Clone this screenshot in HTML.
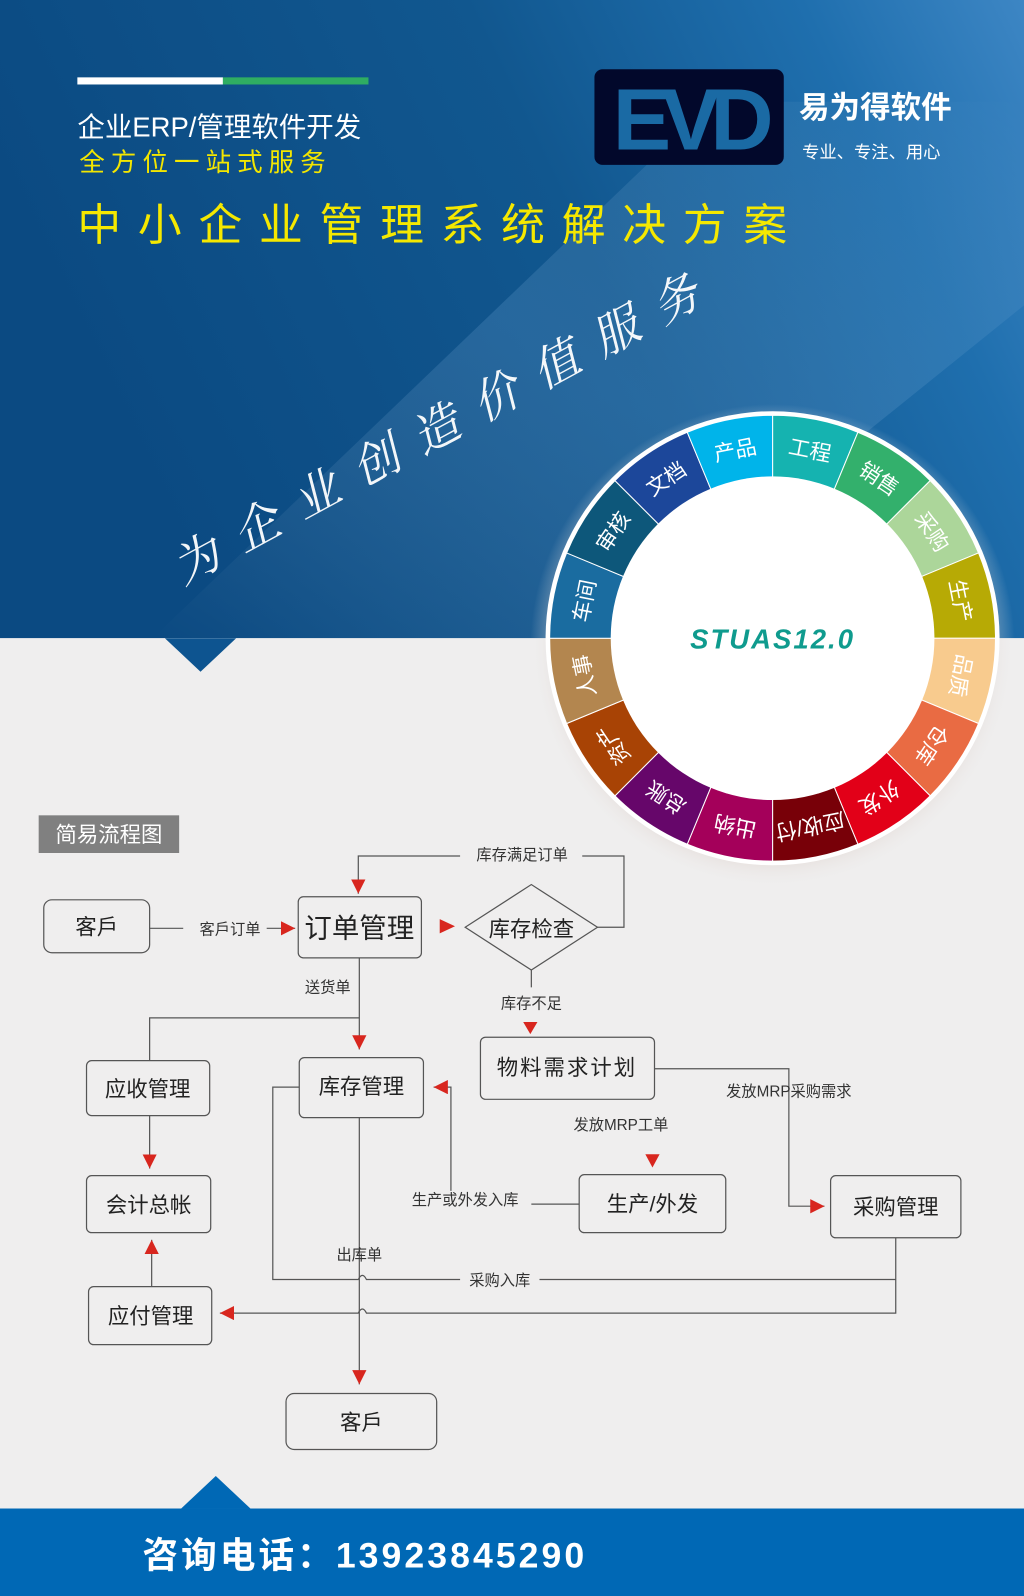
<!DOCTYPE html>
<html><head><meta charset="utf-8">
<style>
html,body{margin:0;padding:0;width:1024px;height:1596px;overflow:hidden;background:#efeeee}
#w{position:absolute;left:0;top:0;width:1006px;height:1568px;transform:scale(1.01789);transform-origin:0 0;font-family:"Liberation Sans","Noto Sans CJK SC",sans-serif}
</style></head><body><div id="w">
<svg width="1006" height="1568" style="position:absolute;left:0;top:0" font-family="Liberation Sans, Noto Sans CJK SC, sans-serif">
<defs>
<linearGradient id="bg" x1="0" y1="0.3" x2="1" y2="0">
<stop offset="0" stop-color="#0b4a82"/><stop offset="0.5" stop-color="#11578f"/><stop offset="0.8" stop-color="#1f6fae"/><stop offset="1" stop-color="#3d86c4"/></linearGradient>
<linearGradient id="hl" x1="0" y1="1" x2="1" y2="0">
<stop offset="0" stop-color="#ffffff" stop-opacity="0"/><stop offset="0.5" stop-color="#8ec0ee" stop-opacity="0.18"/><stop offset="1" stop-color="#ffffff" stop-opacity="0"/></linearGradient>
<radialGradient id="sh" cx="0.5" cy="0.5" r="0.5"><stop offset="0.85" stop-color="#d8c8c0" stop-opacity="0.6"/><stop offset="1" stop-color="#efeeee" stop-opacity="0"/></radialGradient>
<marker id="ar" viewBox="0 0 10 10" refX="10" refY="5" markerWidth="14" markerHeight="14" markerUnits="userSpaceOnUse" orient="auto"><path d="M0,0L10,5L0,10z" fill="#d8261e"/></marker>
</defs>
<rect x="0" y="0" width="1006" height="627" fill="url(#bg)"/>
<polygon points="150,627 700,100 1006,100 1006,300 600,627" fill="url(#hl)"/>
<rect x="0" y="627" width="1006" height="860" fill="#efeeee"/>
<polygon points="162,627 232,627 197,660" fill="#0d5490"/>
<circle cx="759" cy="635" r="238" fill="url(#sh)"/>
<rect x="76" y="76" width="143" height="7" fill="#fff"/><rect x="219" y="76" width="143" height="7" fill="#2fad62"/>
<rect x="584" y="68" width="186" height="94" rx="8" fill="#02082b"/>
<text x="677" y="147" text-anchor="middle" font-size="86" font-weight="bold" fill="#1a6aa4" letter-spacing="-8" textLength="150">EVD</text>
<text x="785" y="116" font-size="30" font-weight="bold" fill="#fff">易为得软件</text>
<text x="788" y="155" font-size="17" fill="#fff">专业、专注、用心</text>
<text x="76" y="134" font-size="27" fill="#fff">企业ERP/管理软件开发</text>
<text x="78" y="168" font-size="25" fill="#f3e600" letter-spacing="6">全方位一站式服务</text>
<text x="76" y="236" font-size="43" fill="#f5e800" letter-spacing="16.5">中小企业管理系统解决方案</text>
<text transform="translate(180,575) rotate(-28.5)" font-size="46" fill="#fff" font-family="Liberation Serif, Noto Serif CJK SC, serif" font-style="italic" letter-spacing="21" opacity="0.95">为企业创造价值服务</text>
<circle cx="759" cy="627" r="223" fill="#fff"/>
<g id="wheel"></g>
<circle cx="759" cy="627" r="159" fill="#fff"/>
<text x="759" y="637" text-anchor="middle" font-size="27" font-weight="bold" font-style="italic" fill="#0f9b8e" letter-spacing="2">STUAS12.0</text>
<g fill="none" stroke="#555" stroke-width="1.2">
<rect x="43" y="884" width="104" height="52" rx="8"/>
<rect x="293" y="881" width="121" height="60" rx="5"/>
<polygon points="457,911 522,869 587,911 522,953"/>
<rect x="472" y="1019" width="171" height="61" rx="5"/>
<rect x="294" y="1039" width="122" height="59" rx="5"/>
<rect x="85" y="1042" width="121" height="54" rx="5"/>
<rect x="85" y="1155" width="122" height="56" rx="5"/>
<rect x="87" y="1264" width="121" height="57" rx="5"/>
<rect x="569" y="1154" width="144" height="57" rx="5"/>
<rect x="816" y="1155" width="128" height="61" rx="5"/>
<rect x="281" y="1369" width="148" height="55" rx="8"/>
<path d="M147,912H180M262,912H290" marker-end="url(#ar)"/>
<path d="M587,911H613V841H572M452,841H352V878" marker-end="url(#ar)"/>
<path d="M353,941V1031" marker-end="url(#ar)"/>
<path d="M353,1000H147V1042"/>
<path d="M522,953V970"/>
<path d="M147,1096V1148" marker-end="url(#ar)"/>
<path d="M149,1264V1218" marker-end="url(#ar)"/>
<path d="M643,1050H775V1185H810" marker-end="url(#ar)"/>
<path d="M569,1183H522M443,1170V1068H426" marker-end="url(#ar)"/>
<path d="M880,1216V1290H360q-4,-8 -8,0H216" marker-end="url(#ar)"/>
<path d="M880,1257H530M452,1257H360q-4,-8 -8,0H268V1068H294"/>
<path d="M353,1098V1360" marker-end="url(#ar)"/>
</g>
<path d="M432,903L447,910L432,917z" fill="#d8261e"/>
<path d="M514,1004L521,1016L528,1004z" fill="#d8261e"/>
<path d="M634,1134L641,1147L648,1134z" fill="#d8261e"/>
<g font-size="15" fill="#333" text-anchor="middle">
<text x="226" y="918">客戶订单</text>
<text x="513" y="845">库存满足订单</text>
<text x="322" y="975">送货单</text>
<text x="522" y="991">库存不足</text>
<text x="775" y="1077">发放MRP采购需求</text>
<text x="610" y="1110">发放MRP工单</text>
<text x="457" y="1184">生产或外发入库</text>
<text x="353" y="1238">出库单</text>
<text x="491" y="1263">采购入库</text>
</g>
<g font-size="21" fill="#222" text-anchor="middle">
<text x="95" y="918">客戶</text>
<text x="353" y="921" font-size="27">订单管理</text>
<text x="522" y="920">库存检查</text>
<text x="557" y="1056" letter-spacing="2">物料需求计划</text>
<text x="355" y="1075">库存管理</text>
<text x="145" y="1077">应收管理</text>
<text x="146" y="1191">会计总帐</text>
<text x="148" y="1300">应付管理</text>
<text x="641" y="1190">生产/外发</text>
<text x="880" y="1193">采购管理</text>
<text x="355" y="1405">客戶</text>
</g>
<rect x="38" y="801" width="138" height="37" fill="#808080"/>
<text x="107" y="827" text-anchor="middle" font-size="21" fill="#fff">简易流程图</text>
<rect x="0" y="1482" width="1006" height="86" fill="#0068b5"/>
<polygon points="178,1482 246,1482 212,1450" fill="#0068b5"/>
<text x="140" y="1540" font-size="35" font-weight="bold" fill="#fff" letter-spacing="3">咨询电话：13923845290</text>
</svg>
</div>
<script>
var segs=[["工程","#15b3b0"],["销售","#33b06c"],["采购","#acd69a"],["生产","#b7aa05"],["品质","#f8cb8e"],["仓库","#e96b43"],["外发","#e20018"],["应收/付","#780008"],["出纳","#a4005a"],["总账","#66066a"],["资产","#a84305"],["人事","#b3864f"],["车间","#1a6ca0"],["审核","#0d577a"],["文档","#1c479a"],["产品","#00b4ea"]];
var g=document.getElementById("wheel"),cx=759,cy=627,R=219,h="";
for(var i=0;i<16;i++){var a0=(i*22.5-90)*Math.PI/180,a1=((i+1)*22.5-90)*Math.PI/180;
h+='<path d="M'+cx+','+cy+'L'+(cx+R*Math.cos(a0))+','+(cy+R*Math.sin(a0))+'A'+R+','+R+' 0 0 1 '+(cx+R*Math.cos(a1))+','+(cy+R*Math.sin(a1))+'Z" fill="'+segs[i][1]+'" stroke="#fff" stroke-width="1"/>';
var m=i*22.5+11.25;
h+='<text transform="rotate('+m+' '+cx+' '+cy+')" x="'+cx+'" y="'+(cy-181)+'" text-anchor="middle" font-size="21" fill="#fff">'+segs[i][0]+'</text>';}
g.innerHTML=h;
</script>
</body></html>
